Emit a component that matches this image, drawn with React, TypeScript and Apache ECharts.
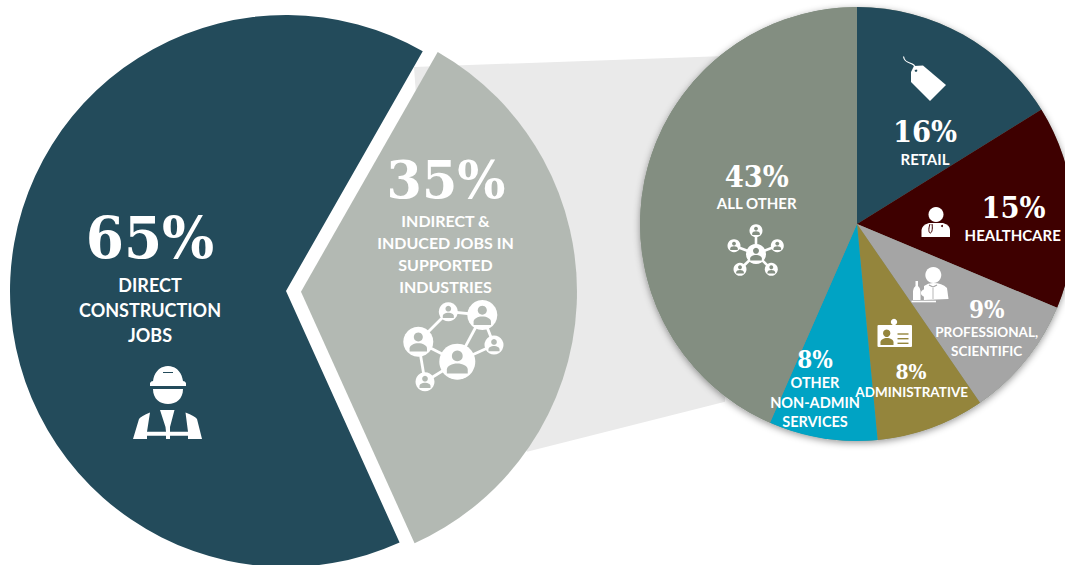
import React, { useEffect, useRef } from "react";
import * as echarts from "echarts";

// Split of jobs supported by construction spending
const splitNames = ["INDIRECT & INDUCED", "DIRECT CONSTRUCTION"];
const splitValues = [35, 65];
const splitColors = ["#B3B9B3", "#234B5B"];

// Breakdown of the indirect and induced share by industry
const sectorNames = ["RETAIL", "HEALTHCARE", "PROFESSIONAL, SCIENTIFIC", "ADMINISTRATIVE", "OTHER NON-ADMIN SERVICES", "ALL OTHER"];
const sectorValues = [16, 15, 9, 8, 8, 43];
const sectorColors = ["#234B5B", "#3E0000", "#A5A5A5", "#94853C", "#00A3C4", "#838E81"];

const directLines = ["DIRECT", "CONSTRUCTION", "JOBS"];
const indirectLines = ["INDIRECT &", "INDUCED JOBS IN", "SUPPORTED", "INDUSTRIES"];

const SERIF = '"DejaVu Serif Condensed", "DejaVu Serif", serif';
const SANS = "Lato, sans-serif";
const WHITE = "#FFFFFF";

const leftPie = { cx: 286, cy: 291, r: 276, start: 60.3 };
const rightPie = { cx: 857, cy: 224, r: 217 };

// Icon outlines
echarts.graphic.registerShape("personBody", echarts.graphic.extendPath("M-1,1 L-1,0.2 C-1,-0.5 -0.5,-1 0,-1 C0.5,-1 1,-0.5 1,0.2 L1,1 Z", {}));
echarts.graphic.registerShape("helmet", echarts.graphic.extendPath("M150,386 L150,383 Q151,381 153,381 C154,373 159,368 163,367 L163,373 L173,373 L173,367 C177,368 182,373 183,381 Q185,381 186,383 L186,386 Z M163,367 Q168,365 173,367 L173,372 L163,372 Z", {}));
echarts.graphic.registerShape("face", echarts.graphic.extendPath("M153,389 L183,389 C183,399 176,404 168,404 C160,404 153,399 153,389 Z", {}));
echarts.graphic.registerShape("vest", echarts.graphic.extendPath("M133,439 L139,419 Q141,416 150,412.5 L147,431.7 L188,431.7 L185.5,412.5 Q195,416 197,419 L202,439 L188,439 L188,435.7 L170,435.7 L170,439 L166,439 L166,435.7 L147,435.7 L147,439 Z M160,410 L174.5,410 L170,427 L170,431.7 L166,431.7 L165.5,427 Z", {}));
echarts.graphic.registerShape("tag", echarts.graphic.extendPath("M911,72 L914,66 L923,65.5 L946,85 L930,101 L911,82 Z", {}));
echarts.graphic.registerShape("doctorBody", echarts.graphic.extendPath("M921.5,237 L921.5,230 Q922,225 929,223 L943,223 Q950,225 950,230 L950,237 Z", {}));
echarts.graphic.registerShape("waiterBody", echarts.graphic.extendPath("M924,300 L924,286 Q928,283 933,283 Q942,283 947,288 L948.5,299 Z", {}));
echarts.graphic.registerShape("bottle", echarts.graphic.extendPath("M915.5,281 L918,281 L918,286 Q920.5,288 920.5,291 L920.5,300 L913,300 L913,291 Q913,288 915.5,286 Z", {}));

function centeredText(text: string, x: number, y: number, font: string, scaleX = 1) {
  return {
    type: "text",
    z: 6,
    x,
    y,
    scaleX,
    style: { text, fill: WHITE, font, textAlign: "center", textVerticalAlign: "middle" },
  };
}

const circle = (cx: number, cy: number, r: number, fill = WHITE) => ({
  type: "circle",
  z: 5,
  shape: { cx, cy, r },
  style: { fill },
});

const line = (x1: number, y1: number, x2: number, y2: number, lineWidth = 2, stroke = WHITE) => ({
  type: "line",
  z: 5,
  shape: { x1, y1, x2, y2 },
  style: { stroke, lineWidth },
});

const shape = (type: string, fill = WHITE, extra: object = {}) => ({
  type,
  z: 5,
  x: 0,
  y: 0,
  style: { fill },
  ...extra,
});

// A round white node holding a small person in the slice colour
function personNode(cx: number, cy: number, r: number, fill: string) {
  return [
    circle(cx, cy, r),
    circle(cx, cy - r * 0.32, r * 0.3, fill),
    shape("personBody", fill, { x: cx, y: cy + r * 0.38, scaleX: r * 0.58, scaleY: r * 0.28 }),
  ];
}

function workerIcon() {
  return [shape("helmet"), shape("face"), shape("vest")];
}

function networkIcon(fill: string) {
  const nodes: [number, number, number][] = [
    [448.3, 311.7, 9.5],
    [482.3, 315, 15],
    [418.3, 341.7, 15],
    [457.3, 361.7, 18],
    [494, 345, 9.5],
    [425, 381.7, 9.5],
  ];
  const links = [[0, 1], [0, 2], [1, 3], [1, 4], [2, 3], [3, 4], [2, 5], [3, 5]];
  return [
    ...links.map(([a, b]) => line(nodes[a][0], nodes[a][1], nodes[b][0], nodes[b][1], 2.8)),
    ...nodes.flatMap(([x, y, r]) => personNode(x, y, r, fill)),
  ];
}

function hubIcon(fill: string) {
  const hub: [number, number, number] = [756, 254, 10];
  const spokes: [number, number, number][] = [
    [756, 230.7, 6.5],
    [734, 245.7, 6.5],
    [777.3, 245.7, 6.5],
    [740, 269.3, 6.5],
    [771.3, 269.3, 6.5],
  ];
  return [
    ...spokes.map(([x, y]) => line(hub[0], hub[1], x, y, 2.6)),
    ...personNode(hub[0], hub[1], hub[2], fill),
    ...spokes.flatMap(([x, y, r]) => personNode(x, y, r, fill)),
  ];
}

function tagIcon(fill: string) {
  return [
    shape("tag"),
    circle(916, 70.5, 1.3, fill),
    {
      type: "bezierCurve",
      z: 5,
      shape: { x1: 903.5, y1: 56.5, cpx1: 905, cpy1: 66, cpx2: 915, cpy2: 60, x2: 916, y2: 70 },
      style: { stroke: WHITE, lineWidth: 1.2, fill: "none" },
    },
  ];
}

function doctorIcon(fill: string) {
  return [
    circle(936, 214.5, 7.5),
    shape("doctorBody"),
    {
      type: "bezierCurve",
      z: 5,
      shape: { x1: 930, y1: 224, cpx1: 926, cpy1: 236, cpx2: 934, cpy2: 236, x2: 932, y2: 224 },
      style: { stroke: fill, lineWidth: 1, fill: "none" },
    },
    circle(942, 226, 1, fill),
  ];
}

function waiterIcon(fill: string) {
  return [
    circle(933.3, 275, 8),
    shape("waiterBody"),
    shape("bottle"),
    line(911.5, 301.5, 936, 301.5, 1.6),
    circle(924.5, 293, 3.6),
    line(924.5, 296, 924.5, 300, 1.2),
    line(929, 285, 933, 287, 1.2, fill),
    line(937, 285, 933, 287, 1.2, fill),
    line(933, 288, 933, 299, 0.8, fill),
  ];
}

function badgeIcon(fill: string) {
  return [
    { type: "rect", z: 5, shape: { x: 877.5, y: 325, width: 34.5, height: 22, r: 1 }, style: { fill: WHITE } },
    circle(894, 322, 3.2),
    circle(886.7, 333.3, 3.7, fill),
    shape("personBody", fill, { x: 887, y: 341.5, scaleX: 6.5, scaleY: 3.5 }),
    line(897.5, 334, 908.5, 334, 1.4, fill),
    line(897.5, 338.7, 908.5, 338.7, 1.4, fill),
    line(897.5, 343.3, 908.5, 343.3, 1.4, fill),
  ];
}

export default function App() {
  const ref = useRef<HTMLDivElement>(null);

  useEffect(() => {
    document.body.style.margin = "0";
    document.body.style.background = WHITE;
    const chart = echarts.init(ref.current!, undefined, { renderer: "svg" });

    const sharedPie = {
      type: "pie",
      silent: true,
      label: { show: false },
      labelLine: { show: false },
      emphasis: { disabled: true },
      z: 2,
    };

    const elements: any[] = [
      // Band tying the indirect slice to its breakdown
      {
        type: "polygon",
        z: 0,
        shape: { points: [[414, 67], [725, 56], [725, 401.7], [527, 451.7], [430, 290]] },
        style: { fill: "#EAEAEA" },
      },
      // Soft drop shadow under the breakdown pie
      {
        type: "circle",
        z: 1,
        shape: { cx: rightPie.cx, cy: rightPie.cy, r: rightPie.r },
        style: { fill: "#838E81", shadowBlur: 7, shadowOffsetY: 2, shadowColor: "rgba(0,0,0,0.4)" },
      },

      centeredText(`${splitValues[1]}%`, 150, 238, `bold 57px ${SERIF}`, 1.07),
      ...directLines.map((t, i) => centeredText(t, 150, 285 + i * 25, `bold 18px ${SANS}`)),
      ...workerIcon(),

      centeredText(`${splitValues[0]}%`, 446, 180, `bold 53px ${SERIF}`, 1.065),
      ...indirectLines.map((t, i) => centeredText(t, 445.5, 220.7 + i * 21.8, `bold 16px ${SANS}`)),
      ...networkIcon(splitColors[0]),

      ...tagIcon(sectorColors[0]),
      centeredText(`${sectorValues[0]}%`, 925, 132, `bold 29px ${SERIF}`, 1.05),
      centeredText(sectorNames[0], 925, 158.7, `bold 15px ${SANS}`),

      ...doctorIcon(sectorColors[1]),
      centeredText(`${sectorValues[1]}%`, 1013.5, 207.5, `bold 29px ${SERIF}`, 1.05),
      centeredText(sectorNames[1], 1012.7, 235, `bold 15px ${SANS}`),

      ...waiterIcon(sectorColors[2]),
      centeredText(`${sectorValues[2]}%`, 986.7, 309, `bold 24px ${SERIF}`),
      centeredText("PROFESSIONAL,", 986.7, 331.7, `bold 13.5px ${SANS}`),
      centeredText("SCIENTIFIC", 986.7, 350.7, `bold 13.5px ${SANS}`),

      ...badgeIcon(sectorColors[3]),
      centeredText(`${sectorValues[3]}%`, 911, 371, `bold 21px ${SERIF}`),
      centeredText(sectorNames[3], 911.7, 392.3, `bold 13.5px ${SANS}`),

      centeredText(`${sectorValues[4]}%`, 815, 359.3, `bold 24px ${SERIF}`),
      centeredText("OTHER", 815, 382.3, `bold 14.5px ${SANS}`),
      centeredText("NON-ADMIN", 815, 402.3, `bold 14.5px ${SANS}`),
      centeredText("SERVICES", 815, 421, `bold 14.5px ${SANS}`),

      centeredText(`${sectorValues[5]}%`, 756.7, 176.7, `bold 29px ${SERIF}`, 1.05),
      centeredText(sectorNames[5], 756.7, 203.3, `bold 15px ${SANS}`),
      ...hubIcon(sectorColors[5]),
    ];

    chart.setOption({
      animation: false,
      backgroundColor: WHITE,
      graphic: { elements },
      series: [
        {
          ...sharedPie,
          center: [leftPie.cx, leftPie.cy],
          radius: [0, leftPie.r],
          startAngle: leftPie.start,
          selectedMode: "single",
          selectedOffset: 15,
          data: splitValues.map((value, i) => ({
            name: splitNames[i],
            value,
            selected: i === 0,
            itemStyle: { color: splitColors[i] },
          })),
        },
        {
          ...sharedPie,
          center: [rightPie.cx, rightPie.cy],
          radius: [0, rightPie.r],
          startAngle: 90,
          data: sectorValues.map((value, i) => ({
            name: sectorNames[i],
            value,
            itemStyle: { color: sectorColors[i] },
          })),
        },
      ],
    });

    return () => chart.dispose();
  }, []);

  return <div ref={ref} style={{ width: 1065, height: 565 }} />;
}
